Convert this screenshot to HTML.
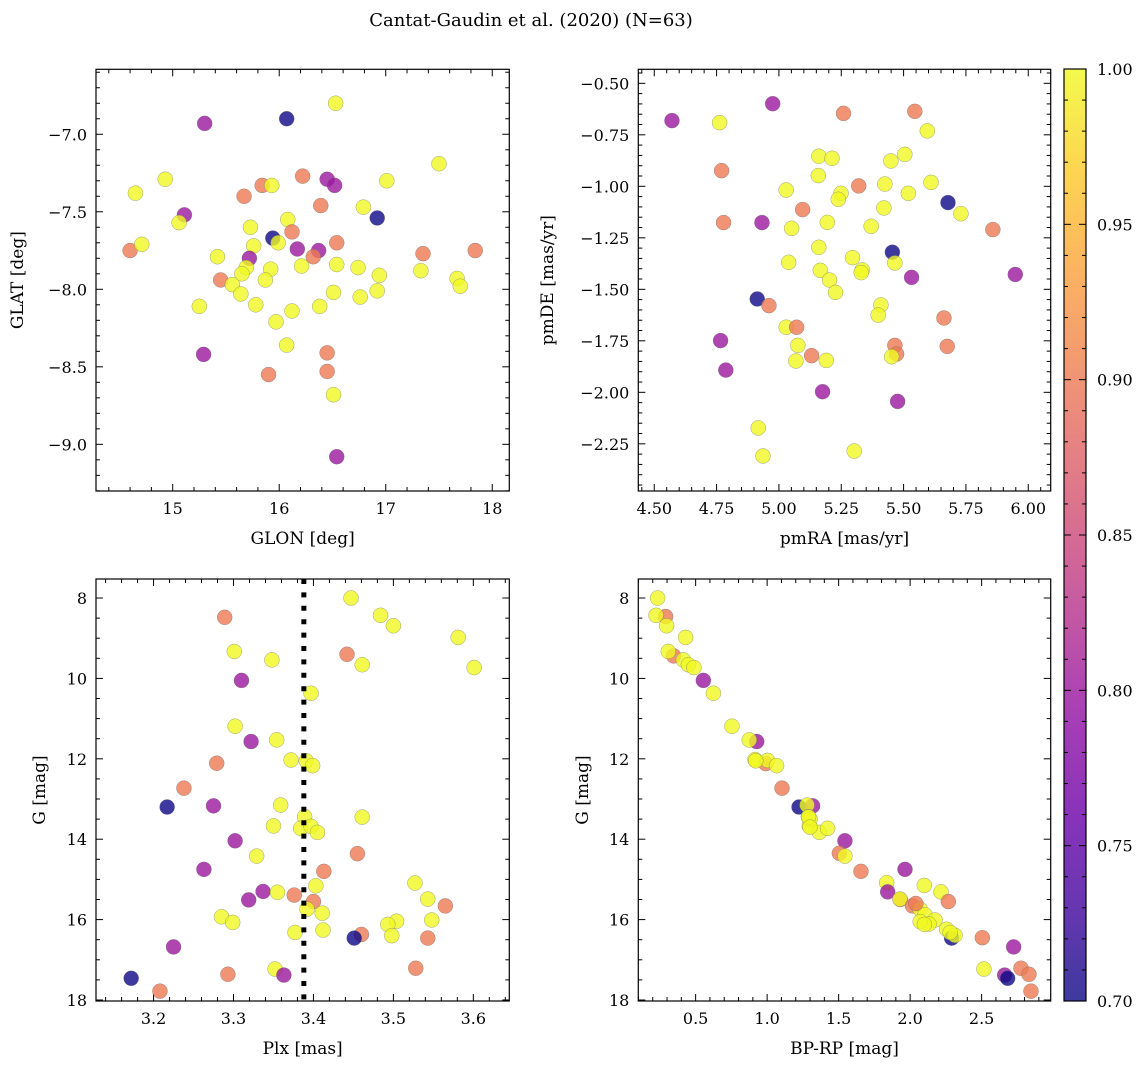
<!DOCTYPE html>
<html><head><meta charset="utf-8"><style>
html,body{margin:0;padding:0;background:#fff;}
svg{display:block;font-family:"DejaVu Serif","Liberation Serif",serif;}
</style></head><body>
<svg id="fig" width="1148" height="1068" viewBox="0 0 1148 1068" xmlns="http://www.w3.org/2000/svg">
<defs><linearGradient id="plasma" x1="0" y1="1" x2="0" y2="0"></linearGradient></defs>
<text x="531" y="26" font-size="18" text-anchor="middle">Cantat-Gaudin et al. (2020) (N=63)</text>
</svg>
<script>
// ---- Panel 1 data: GLON / GLAT ----
const p1Glon=[15.30,16.07,16.53,14.93,14.65,17.50,16.22,15.84,15.93,16.45,16.52,17.01,15.67,16.39,16.79,15.11,15.06,16.92,16.08,15.73,16.12,15.94,15.99,16.54,14.60,14.71,15.76,16.17,16.37,16.32,15.42,15.72,15.69,15.92,15.65,16.21,16.54,16.74,17.35,17.84,17.33,16.94,17.67,17.70,15.45,15.56,15.87,15.64,16.51,16.76,16.92,15.25,15.78,16.38,16.12,15.97,16.07,15.29,16.45,15.90,16.45,16.51,16.54];
const p1Glat=[-6.93,-6.90,-6.80,-7.29,-7.38,-7.19,-7.27,-7.33,-7.33,-7.29,-7.33,-7.30,-7.40,-7.46,-7.47,-7.52,-7.57,-7.54,-7.55,-7.60,-7.63,-7.67,-7.70,-7.70,-7.75,-7.71,-7.72,-7.74,-7.75,-7.79,-7.79,-7.80,-7.86,-7.87,-7.90,-7.85,-7.84,-7.86,-7.77,-7.75,-7.88,-7.91,-7.93,-7.98,-7.94,-7.97,-7.94,-8.03,-8.02,-8.05,-8.01,-8.11,-8.10,-8.11,-8.14,-8.21,-8.36,-8.42,-8.41,-8.55,-8.53,-8.68,-9.08];
const p1Prob=[0.80,0.70,1,1,1,1,0.90,0.90,1,0.80,0.80,1,0.90,0.90,1,0.80,1,0.70,1,1,0.90,0.70,1,0.90,0.90,1,1,0.80,0.80,0.90,1,0.80,1,1,1,1,1,1,0.90,0.90,1,1,1,1,0.90,1,1,1,1,1,1,1,1,1,1,1,1,0.80,0.90,0.90,0.90,1,0.80];
// ---- Panel 2 data: pmRA / pmDE ----
const p2Pmra=[4.571,4.975,4.762,5.259,5.545,5.595,5.160,5.213,5.449,5.505,4.770,5.158,5.320,5.425,5.610,5.029,5.249,5.238,5.519,5.678,5.095,5.421,5.730,4.778,4.932,5.051,5.194,5.370,5.858,5.160,5.455,5.295,5.039,5.465,5.166,5.334,5.330,5.203,5.532,5.948,5.227,4.913,4.960,5.409,5.398,5.662,5.029,5.071,4.766,5.076,5.465,5.675,5.472,5.131,5.452,5.068,5.190,4.787,5.175,5.476,4.917,4.936,5.302];
const p2Pmde=[-0.681,-0.599,-0.691,-0.646,-0.636,-0.731,-0.854,-0.864,-0.877,-0.845,-0.924,-0.948,-0.998,-0.989,-0.981,-1.018,-1.034,-1.063,-1.034,-1.079,-1.113,-1.105,-1.133,-1.176,-1.176,-1.204,-1.175,-1.194,-1.210,-1.296,-1.320,-1.346,-1.369,-1.372,-1.408,-1.406,-1.419,-1.455,-1.442,-1.428,-1.515,-1.547,-1.579,-1.576,-1.625,-1.639,-1.684,-1.684,-1.749,-1.772,-1.772,-1.777,-1.814,-1.822,-1.827,-1.848,-1.845,-1.892,-1.997,-2.044,-2.173,-2.309,-2.285];
const p2Prob=[0.80,0.80,1,0.90,0.90,1,1,1,1,1,0.90,1,0.90,1,1,1,1,1,1,0.70,0.90,1,1,0.90,0.80,1,1,1,0.90,1,0.70,1,1,1,1,1,1,1,0.80,0.80,1,0.70,0.90,1,1,0.90,1,0.90,0.80,1,0.90,0.90,0.90,0.90,1,1,1,0.80,0.80,0.80,1,1,1];
// ---- Panel 3 data: Plx / G ----
const p3Plx=[3.447,3.289,3.484,3.500,3.581,3.301,3.348,3.442,3.461,3.601,3.310,3.397,3.302,3.322,3.354,3.279,3.372,3.391,3.399,3.238,3.217,3.275,3.359,3.389,3.350,3.384,3.397,3.405,3.461,3.302,3.329,3.455,3.263,3.413,3.403,3.527,3.337,3.355,3.376,3.319,3.400,3.543,3.565,3.392,3.411,3.285,3.299,3.504,3.493,3.548,3.412,3.377,3.498,3.460,3.451,3.543,3.225,3.528,3.352,3.363,3.293,3.172,3.208];
const p3G=[8.00,8.48,8.43,8.69,8.98,9.33,9.54,9.40,9.66,9.73,10.05,10.37,11.19,11.57,11.53,12.11,12.03,12.05,12.17,12.73,13.20,13.17,13.15,13.44,13.67,13.73,13.68,13.83,13.45,14.04,14.42,14.36,14.75,14.80,15.16,15.09,15.30,15.32,15.39,15.51,15.55,15.49,15.66,15.74,15.84,15.93,16.07,16.04,16.12,16.01,16.26,16.32,16.40,16.37,16.46,16.46,16.68,17.21,17.23,17.38,17.36,17.46,17.78];
const p3Prob=[1,0.90,1,1,1,1,1,0.90,1,1,0.80,1,1,0.80,1,0.90,1,1,1,0.90,0.70,0.80,1,1,1,1,1,1,1,0.80,1,0.90,0.80,0.90,1,1,0.80,1,0.90,0.80,0.90,1,0.90,1,1,1,1,1,1,1,1,1,1,0.90,0.70,0.90,0.80,0.90,1,0.80,0.90,0.70,0.90];
const plxLine=3.388;
// ---- Panel 4 data: BP-RP / G ----
const p4Color=[0.234,0.290,0.223,0.297,0.430,0.346,0.309,0.414,0.449,0.488,0.554,0.624,0.754,0.927,0.875,0.990,0.915,1.003,1.066,1.104,1.223,1.318,1.279,1.288,1.295,1.365,1.423,1.544,1.505,1.544,1.656,1.964,1.836,1.843,2.099,2.216,1.931,1.929,2.267,2.017,2.069,2.104,2.174,2.132,2.255,2.290,2.314,2.505,2.724,2.516,2.775,2.661,2.682,2.831,2.845,1.30,2.07,2.28,1.29,2.10,2.04,0.92,1.30];
const p4G=[8.00,8.46,8.43,8.69,8.98,9.44,9.33,9.54,9.66,9.73,10.05,10.37,11.19,11.57,11.53,12.12,12.02,12.04,12.17,12.73,13.20,13.17,13.15,13.44,13.67,13.83,13.73,14.04,14.35,14.42,14.80,14.75,15.08,15.31,15.15,15.31,15.50,15.49,15.55,15.66,15.74,15.88,16.01,16.11,16.24,16.46,16.39,16.45,16.68,17.23,17.21,17.38,17.46,17.36,17.78,13.50,16.05,16.32,13.45,16.12,15.60,12.05,13.70];
const p4Prob=[1,0.90,1,1,1,0.90,1,1,1,1,0.80,1,1,0.80,1,0.90,1,1,1,0.90,0.70,0.80,1,1,1,1,1,0.80,0.90,1,0.90,0.80,1,0.80,1,1,0.90,1,0.90,0.90,1,1,1,1,1,0.70,1,0.90,0.80,1,0.90,0.80,0.70,0.90,0.90,1,1,1,1,1,0.90,1,1];
// ---- Colorbar ----
const cbTicks=[0.70,0.75,0.80,0.85,0.90,0.95,1.00];

const NS="http://www.w3.org/2000/svg";
const svg=document.getElementById('fig');
const stops=['#0d0887','#41049d','#6a00a8','#8f0da4','#b12a90','#cc4778','#e16462','#f2844b','#fca636','#fcce25','#f0f921'];
function hx(c){return [parseInt(c.slice(1,3),16),parseInt(c.slice(3,5),16),parseInt(c.slice(5,7),16)];}
function plasma(t){t=Math.max(0,Math.min(1,t));const f=t*10,i=Math.min(9,Math.floor(f)),u=f-i;const a=hx(stops[i]),b=hx(stops[i+1]);return 'rgb('+a.map((v,k)=>Math.round(v+(b[k]-v)*u)).join(',')+')';}
const vmin=0.70,vmax=1.00;
function mk(tag,at,parent){const e=document.createElementNS(NS,tag);for(const k in at)e.setAttribute(k,at[k]);(parent||svg).appendChild(e);return e;}
function fmt(v,d){return (v<0?'\u2212':'')+Math.abs(v).toFixed(d);}

function panel(o){
  const g=mk('g',{});
  
  
  const sx=v=>o.L+(v-o.xmin)/(o.xmax-o.xmin)*(o.R-o.L);
  const sy=v=>o.yinv? o.T+(v-o.ymin)/(o.ymax-o.ymin)*(o.B-o.T) : o.B-(v-o.ymin)/(o.ymax-o.ymin)*(o.B-o.T);
  const tg=mk('g',{stroke:'#000','stroke-width':1},g);
  for(let v=Math.ceil(o.xmin/o.xmn-1e-6)*o.xmn;v<=o.xmax+1e-9;v+=o.xmn){
    const maj=Math.abs(v/o.xmj-Math.round(v/o.xmj))<1e-6;const x=sx(v),len=maj?7:4;
    mk('line',{x1:x,x2:x,y1:o.B,y2:o.B-len},tg);mk('line',{x1:x,x2:x,y1:o.T,y2:o.T+len},tg);
    if(maj){const t=mk('text',{x:x,y:o.B+23,'font-size':16,'text-anchor':'middle'},g);t.textContent=fmt(v,o.xd);
      }
  }
  const lo=Math.min(o.ymin,o.ymax),hi=Math.max(o.ymin,o.ymax);
  for(let v=Math.ceil(lo/o.ymn-1e-6)*o.ymn;v<=hi+1e-9;v+=o.ymn){
    const maj=Math.abs(v/o.ymj-Math.round(v/o.ymj))<1e-6;const y=sy(v),len=maj?7:4;
    mk('line',{x1:o.L,x2:o.L+len,y1:y,y2:y},tg);mk('line',{x1:o.R,x2:o.R-len,y1:y,y2:y},tg);
    if(maj){const t=mk('text',{x:o.L-9,y:y+6,'font-size':16,'text-anchor':'end'},g);t.textContent=fmt(v,o.yd);
      }
  }
  const pg=mk('g',{},g);
  
  
  for(let i=0;i<o.xv.length;i++){
    const c=mk('circle',{cx:sx(o.xv[i]),cy:sy(o.yv[i]),r:7.5,fill:plasma((o.pv[i]-vmin)/(vmax-vmin)),'fill-opacity':0.8,stroke:'#666','stroke-opacity':0.6,'stroke-width':0.5},pg);
    
    
  }
  if(o.vline!==undefined){
    const l=mk('line',{x1:sx(o.vline),x2:sx(o.vline),y1:o.T,y2:o.B,stroke:'#000','stroke-width':5,'stroke-dasharray':'5,8.4'},g);
    
    
  }
  const fr=mk('rect',{x:o.L,y:o.T,width:o.R-o.L,height:o.B-o.T,fill:'none',stroke:'#000','stroke-width':1.2},g);
  
  
  const xl=mk('text',{x:(o.L+o.R)/2,y:o.B+53,'font-size':17,'text-anchor':'middle'},g);xl.textContent=o.xlabel;
  
  const yx=o.ylx,yy=(o.T+o.B)/2;
  const yl=mk('text',{x:yx,y:yy,'font-size':17,'text-anchor':'middle',transform:'rotate(-90 '+yx+' '+yy+')'},g);yl.textContent=o.ylabel;
  
}
panel({name:'glon-glat-panel',L:96,R:509.3,T:69.3,B:491,xmin:14.28,xmax:18.16,ymin:-9.301,ymax:-6.581,xmj:1,xmn:0.2,ymj:0.5,ymn:0.1,xd:0,yd:1,xv:p1Glon,yv:p1Glat,pv:p1Prob,xlabel:'GLON [deg]',ylabel:'GLAT [deg]',ylx:23});
panel({name:'proper-motion-panel',L:638.3,R:1050.7,T:69.3,B:491,xmin:4.436,xmax:6.090,ymin:-2.479,ymax:-0.432,xmj:0.25,xmn:0.05,ymj:0.25,ymn:0.05,xd:2,yd:2,xv:p2Pmra,yv:p2Pmde,pv:p2Prob,xlabel:'pmRA [mas/yr]',ylabel:'pmDE [mas/yr]',ylx:553});
panel({name:'parallax-magnitude-panel',L:96,R:509.3,T:579,B:1001,xmin:3.128,xmax:3.645,ymin:7.527,ymax:18.025,yinv:true,xmj:0.1,xmn:0.02,ymj:2,ymn:0.5,xd:1,yd:0,xv:p3Plx,yv:p3G,pv:p3Prob,vline:plxLine,xlabel:'Plx [mas]',ylabel:'G [mag]',ylx:45});
panel({name:'color-magnitude-panel',L:638.3,R:1050.7,T:579,B:1001,xmin:0.099,xmax:2.983,ymin:7.527,ymax:18.025,yinv:true,xmj:0.5,xmn:0.1,ymj:2,ymn:0.5,xd:1,yd:0,xv:p4Color,yv:p4G,pv:p4Prob,xlabel:'BP-RP [mag]',ylabel:'G [mag]',ylx:588});

const grad=document.getElementById('plasma');
stops.forEach((c,i)=>mk('stop',{offset:(i/10),'stop-color':c,'stop-opacity':0.8},grad));
const cb=mk('g',{});


const cT=69,cB=1001,cL=1064,cR=1086;
mk('rect',{x:cL,y:cT,width:cR-cL,height:cB-cT,fill:'url(#plasma)',stroke:'#000','stroke-width':1.2},cb);
const cy=v=>cB-(v-vmin)/(vmax-vmin)*(cB-cT);
for(let k=0;k<=30;k++){const v=vmin+k*0.01;const y=cy(v);const maj=k%5===0;
  mk('line',{x1:cR,x2:cR-(maj?7:4),y1:y,y2:y,stroke:'#000'},cb);
  mk('line',{x1:cL,x2:cL+(maj?7:4),y1:y,y2:y,stroke:'#000'},cb);}
cbTicks.forEach(v=>{const t=mk('text',{x:cR+11,y:cy(v)+6,'font-size':16},cb);t.textContent=v.toFixed(2);
  });
</script>
</body></html>
